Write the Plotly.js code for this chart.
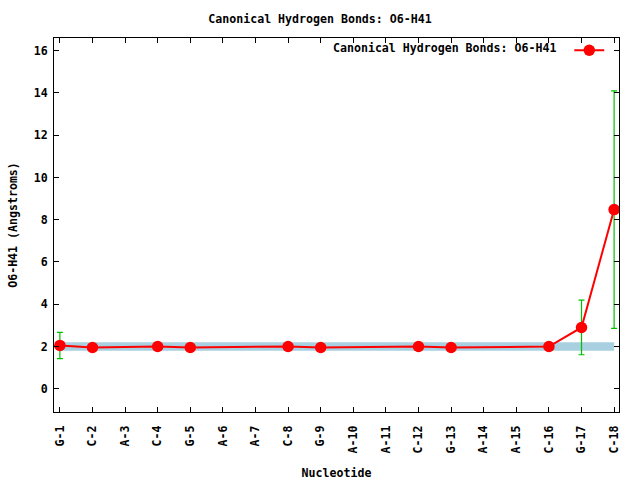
<!DOCTYPE html>
<html>
<head>
<meta charset="utf-8">
<script src="https://cdn.plot.ly/plotly-3.0.1.min.js"></script>
<style>html,body{margin:0;padding:0;background:#fff;} #chart{width:640px;height:480px;}</style>
</head>
<body>
<div id="chart"></div>
<script>
// Data
const categories = ["G-1","C-2","A-3","C-4","G-5","A-6","A-7","C-8","G-9","A-10","A-11","C-12","G-13","A-14","A-15","C-16","G-17","C-18"];
const pointLabels = ["G-1","C-2","C-4","G-5","C-8","G-9","C-12","G-13","C-16","G-17","C-18"];
const distances = [2.05, 1.95, 2.0, 1.95, 2.0, 1.95, 2.0, 1.95, 2.0, 2.9, 8.48];
const errors = [0.62, 0.15, 0.08, 0.06, 0.08, 0.06, 0.08, 0.06, 0.08, 1.29, 5.62];
const bandX = ["G-1", "C-18"];
const bandLow = [1.8, 1.8];
const bandHigh = [2.2, 2.2];
const seriesName = "Canonical Hydrogen Bonds: O6-H41";

const FONT = "'DejaVu Sans Mono', 'Liberation Mono', monospace";

const traces = [
  {x: bandX, y: bandLow, type: 'scatter', mode: 'lines', line: {width: 0, color: '#a8d0e0'}, showlegend: false, hoverinfo: 'skip'},
  {x: bandX, y: bandHigh, type: 'scatter', mode: 'lines', fill: 'tonexty', fillcolor: '#a8d0e0', line: {width: 0, color: '#a8d0e0'}, showlegend: false, hoverinfo: 'skip'},
  {x: pointLabels, y: distances, type: 'scatter', mode: 'lines+markers', name: ' ',
   line: {color: '#ff0000', width: 2},
   marker: {color: '#ff0000', size: 11.5, symbol: 'circle'},
   error_y: {type: 'data', array: errors, visible: true, color: '#00c000', thickness: 1.2, width: 3}}
];

const layout = {
  width: 640, height: 480,
  margin: {l: 54, r: 21, t: 38, b: 68},
  paper_bgcolor: '#fff', plot_bgcolor: '#fff',
  font: {family: FONT, size: 11.6, color: '#000', weight: 'bold'},
  title: {text: seriesName, font: {family: FONT, size: 11.6, color: '#000', weight: 'bold'}, x: 0.5, xanchor: 'center', y: 0.960, yanchor: 'middle'},
  showlegend: true,
  legend: {x: 0.912, xanchor: 'left', y: 1.006, yanchor: 'top', bgcolor: 'rgba(0,0,0,0)', borderwidth: 0, font: {family: FONT, size: 11.6}},
  xaxis: {
    type: 'category', categoryorder: 'array', categoryarray: categories,
    range: [-0.18, 17.15],
    showgrid: false, zeroline: false,
    showline: true, linecolor: '#000', linewidth: 1, mirror: 'ticks',
    ticks: 'inside', ticklen: 5, tickcolor: '#000',
    tickangle: -90, ticklabelstandoff: 8,
    tickfont: {family: FONT, size: 11.6, color: '#000', weight: 'bold'},
    title: {text: 'Nucleotide', font: {family: FONT, size: 11.6, color: '#000', weight: 'bold'}, standoff: 16}
  },
  yaxis: {
    range: [-1.1, 16.6],
    tickvals: [0,2,4,6,8,10,12,14,16],
    showgrid: false, zeroline: false,
    showline: true, linecolor: '#000', linewidth: 1, mirror: 'ticks',
    ticks: 'inside', ticklen: 5, tickcolor: '#000', ticklabelstandoff: 3,
    tickfont: {family: FONT, size: 11.6, color: '#000', weight: 'bold'},
    title: {text: 'O6-H41 (Angstroms)', font: {family: FONT, size: 11.6, color: '#000', weight: 'bold'}, standoff: 13}
  },
  annotations: [
    {text: seriesName, xref: 'paper', yref: 'paper', x: 0.892, xanchor: 'right', y: 0.972, yanchor: 'middle', showarrow: false,
     font: {family: FONT, size: 11.6, color: '#000', weight: 'bold'}}
  ]
};

Plotly.newPlot('chart', traces, layout, {displayModeBar: false, staticPlot: true});
</script>
</body>
</html>
